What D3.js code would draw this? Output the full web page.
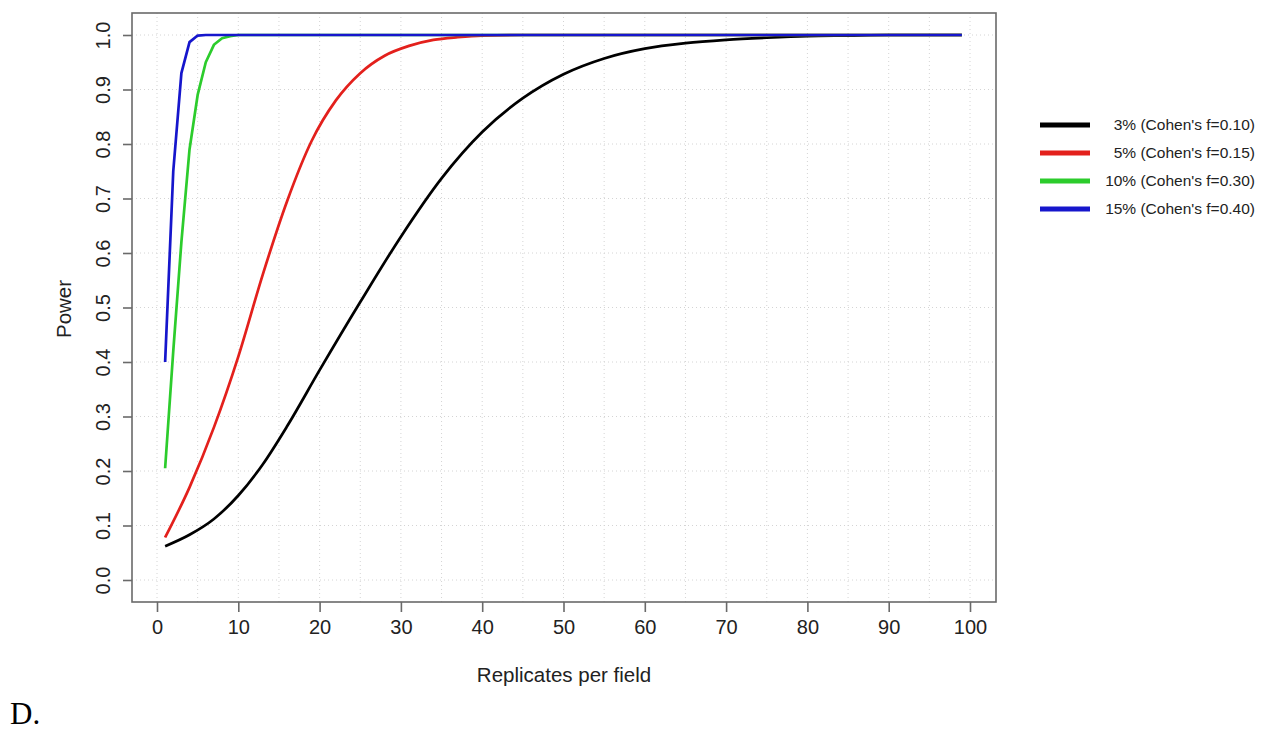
<!DOCTYPE html>
<html>
<head>
<meta charset="utf-8">
<script src="https://cdn.jsdelivr.net/npm/d3@7"></script>
<style>
  body { margin: 0; background: #fff; }
  text { font-family: "Liberation Sans", Arial, sans-serif; fill: #222; }
</style>
</head>
<body>
<svg width="1270" height="731"></svg>
<script>
// values
const blackX = [1, 4, 7, 10, 13, 16, 20, 25, 30, 35, 40, 45, 50, 55, 60, 65, 70, 75, 80, 85, 90, 99];
const blackY = [0.062, 0.083, 0.112, 0.155, 0.212, 0.282, 0.385, 0.51, 0.63, 0.737, 0.822, 0.884, 0.928, 0.957, 0.975, 0.985, 0.991, 0.995, 0.998, 0.999, 1.0, 1.0];
const redX = [1, 4, 7, 10, 13, 16, 19, 22, 25, 28, 31, 34, 37, 40, 45, 99];
const redY = [0.078, 0.17, 0.28, 0.41, 0.56, 0.695, 0.805, 0.88, 0.93, 0.962, 0.98, 0.991, 0.996, 0.999, 1.0, 1.0];
const greenX = [1, 2, 3, 4, 5, 6, 7, 8, 9, 10, 99];
const greenY = [0.205, 0.42, 0.62, 0.79, 0.89, 0.95, 0.982, 0.994, 0.998, 1.0, 1.0];
const blueX = [1, 2, 3, 4, 5, 6, 99];
const blueY = [0.40, 0.75, 0.93, 0.987, 0.999, 1.0, 1.0];

const seriesNames = ["3% (Cohen's f=0.10)", "5% (Cohen's f=0.15)", "10% (Cohen's f=0.30)", "15% (Cohen's f=0.40)"];
const seriesColors = ["#000000", "#e3201c", "#2ccc2c", "#1616cc"];
const xTicks = d3.range(0, 101, 10);
const yTicks = d3.range(0, 1.01, 0.1);

const svg = d3.select("svg");
const box = { left: 132, right: 996, top: 13, bottom: 602 };

const x = d3.scaleLinear().domain([0, 100]).range([157, 970]);
const y = d3.scaleLinear().domain([0, 1]).range([580, 35]);

// grid
const grid = svg.append("g")
    .style("stroke", "#d4d4d4")
    .style("stroke-dasharray", "1,3")
    .style("stroke-width", 1);
grid.selectAll(".gx")
    .data(d3.range(0, 101, 5))
    .enter().append("line")
    .attr("x1", d => x(d)).attr("x2", d => x(d))
    .attr("y1", box.top).attr("y2", box.bottom);
grid.selectAll(".gy")
    .data(yTicks)
    .enter().append("line")
    .attr("x1", box.left).attr("x2", box.right)
    .attr("y1", d => y(d)).attr("y2", d => y(d));

// curves
const series = [
    { xs: blackX, ys: blackY, curve: d3.curveMonotoneX },
    { xs: redX, ys: redY, curve: d3.curveMonotoneX },
    { xs: greenX, ys: greenY, curve: d3.curveLinear },
    { xs: blueX, ys: blueY, curve: d3.curveLinear }
];
series.forEach((s, i) => {
    const pts = s.xs.map((v, j) => [v, s.ys[j]]);
    svg.append("path")
        .datum(pts)
        .attr("d", d3.line().x(d => x(d[0])).y(d => y(d[1])).curve(s.curve))
        .style("fill", "none")
        .style("stroke", seriesColors[i])
        .style("stroke-width", 2.7)
        .style("stroke-linejoin", "round");
});

// box
svg.append("rect")
    .attr("x", box.left).attr("y", box.top)
    .attr("width", box.right - box.left).attr("height", box.bottom - box.top)
    .style("fill", "none")
    .style("stroke", "#6a6a6a")
    .style("stroke-width", 1.6);

// x axis
const xAxis = svg.append("g")
    .attr("transform", `translate(0,${box.bottom})`)
    .call(d3.axisBottom(x).tickValues(xTicks).tickSize(10).tickPadding(8).tickFormat(d3.format("d")));
xAxis.select(".domain").remove();
xAxis.selectAll("line").style("stroke", "#6a6a6a").style("stroke-width", 1.6);
xAxis.selectAll("text").style("font-size", "20px").style("font-family", "Liberation Sans, Arial, sans-serif").attr("fill", "#222");

// y axis
const yAxis = svg.append("g")
    .attr("transform", `translate(${box.left},0)`)
    .call(d3.axisLeft(y).tickValues(yTicks).tickSize(9).tickFormat(d3.format(".1f")));
yAxis.select(".domain").remove();
yAxis.selectAll("line").style("stroke", "#6a6a6a").style("stroke-width", 1.6);
yAxis.selectAll("text")
    .attr("x", null)
    .attr("text-anchor", "middle")
    .attr("transform", "translate(-29,0) rotate(-90)")
    .attr("y", 0)
    .attr("dy", "0.35em")
    .style("font-size", "20px")
    .style("font-family", "Liberation Sans, Arial, sans-serif")
    .attr("fill", "#222");

// axis titles
svg.append("text")
    .attr("x", 564).attr("y", 682)
    .attr("text-anchor", "middle")
    .style("font-size", "20.5px")
    .text("Replicates per field");
svg.append("text")
    .attr("transform", "translate(71,309) rotate(-90)")
    .attr("text-anchor", "middle")
    .style("font-size", "20.5px")
    .text("Power");

// legend
const legend = svg.append("g");
seriesNames.forEach((name, i) => {
    const ly = 125 + i * 28;
    legend.append("line")
        .attr("x1", 1040).attr("x2", 1090)
        .attr("y1", ly).attr("y2", ly)
        .style("stroke", seriesColors[i])
        .style("stroke-width", 5);
    legend.append("text")
        .attr("x", 1255).attr("y", ly)
        .attr("dy", "0.35em")
        .attr("text-anchor", "end")
        .style("font-size", "15.5px")
        .text(name);
});

// panel letter
svg.append("text")
    .attr("x", 10).attr("y", 724)
    .style("font-family", "Liberation Serif, Times New Roman, serif")
    .style("font-size", "31px")
    .style("fill", "#000")
    .text("D.");
</script>
</body>
</html>
